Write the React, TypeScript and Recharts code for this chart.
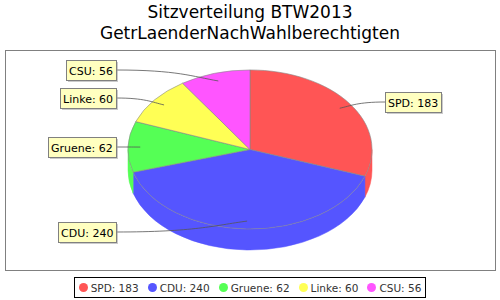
import { PieChart, Pie, Cell, Legend } from 'recharts';

const parties = ['SPD', 'CDU', 'Gruene', 'Linke', 'CSU'];
const seats = [183, 240, 62, 60, 56];
const colors = ['#FF5555', '#5555FF', '#55FF55', '#FFFF55', '#FF55FF'];

const titleLines = ['Sitzverteilung BTW2013', 'GetrLaenderNachWahlberechtigten'];

const chartData = parties.map((name, i) => ({ name, value: seats[i] }));

// flatten factor and side depth for the fake 3D look
const FLAT = 0.652;
const DEPTH = 21;
const RAD = Math.PI / 180;
const LABEL_FONT = "11px 'DejaVu Sans'";

let measureCtx: CanvasRenderingContext2D | null = null;
const textWidth = (text: string): number => {
  if (!measureCtx) {
    measureCtx = document.createElement('canvas').getContext('2d');
  }
  if (!measureCtx) return text.length * 6.2;
  measureCtx.font = LABEL_FONT;
  return measureCtx.measureText(text).width;
};

const pt = (cx: number, cy: number, rx: number, ry: number, a: number) => ({
  x: cx + rx * Math.cos(a * RAD),
  y: cy - ry * Math.sin(a * RAD),
});

const EllipseSector = (props: any) => {
  const { cx, cy, outerRadius, startAngle, endAngle, fill } = props;
  const rx = outerRadius;
  const ry = outerRadius * FLAT;
  const s = pt(cx, cy, rx, ry, startAngle);
  const e = pt(cx, cy, rx, ry, endAngle);
  const large = Math.abs(endAngle - startAngle) > 180 ? 1 : 0;
  const sweep = endAngle < startAngle ? 1 : 0;
  const top = `M${cx},${cy} L${s.x},${s.y} A${rx},${ry} 0 ${large} ${sweep} ${e.x},${e.y} Z`;

  // visible side wall: front half of the ellipse (angles between 0 and -180)
  const hi = Math.min(Math.max(startAngle, endAngle), 0);
  const lo = Math.max(Math.min(startAngle, endAngle), -180);
  let side = null;
  if (hi > lo) {
    const a = pt(cx, cy, rx, ry, hi);
    const b = pt(cx, cy, rx, ry, lo);
    const d = `M${a.x},${a.y} A${rx},${ry} 0 0 1 ${b.x},${b.y} L${b.x},${b.y + DEPTH} A${rx},${ry} 0 0 0 ${a.x},${a.y + DEPTH} Z`;
    side = <path d={d} fill={fill} stroke={fill} strokeWidth={0.5} />;
  }

  return (
    <g>
      {side}
      <path d={top} fill={fill} stroke="#888888" strokeWidth={0.6} />
    </g>
  );
};

const renderLabel = (props: any) => {
  const { cx, cy, midAngle, outerRadius, index } = props;
  const rx = outerRadius;
  const ry = outerRadius * FLAT;
  const text = `${parties[index]}: ${seats[index]}`;
  const w = Math.round(textWidth(text)) + 6;
  const h = 20;
  const anchor = pt(cx, cy, rx * 0.9, ry * 0.9, midAngle);
  const ly = Math.round(cy - ry * 1.038 * Math.sin(midAngle * RAD));
  const right = Math.cos(midAngle * RAD) >= 0;
  const bx = right ? cx + 135 : cx - 134 - w;
  const by = ly - h / 2;
  const ex = right ? bx : bx + w;
  const dx = anchor.x - ex;
  const link = `M${ex},${ly} C${ex + dx * 0.6},${ly} ${anchor.x - dx * 0.25},${anchor.y + (ly - anchor.y) * 0.4} ${anchor.x},${anchor.y}`;
  return (
    <g key={`lbl-${index}`}>
      <path d={link} fill="none" stroke="#555555" strokeWidth={0.8} />
      <rect x={bx + 2} y={by + 2} width={w} height={h} fill="rgba(151,151,151,0.5)" />
      <rect x={bx + 0.5} y={by + 0.5} width={w} height={h} fill="#FFFFC0" stroke="#808080" strokeWidth={1} />
      <text
        x={bx + 3}
        y={by + 14.5}
        fontFamily="DejaVu Sans"
        fontSize={11}
        fill="#000000"
      >
        {text}
      </text>
    </g>
  );
};

const renderLegend = () => (
  <div style={{ display: 'flex', justifyContent: 'center' }}>
    <div
      style={{
        display: 'flex',
        alignItems: 'center',
        boxSizing: 'border-box',
        height: 21,
        border: '1px solid #000',
        padding: '0 4px',
        fontFamily: 'DejaVu Sans',
        fontSize: 10.5,
        color: '#333',
        background: '#fff',
        gap: 9,
      }}
    >
      {parties.map((p, i) => (
        <span key={p} style={{ display: 'flex', alignItems: 'center', gap: 3 }}>
          <span
            style={{
              width: 9,
              height: 9,
              borderRadius: 5,
              background: colors[i],
              display: 'inline-block',
            }}
          />
          {`${p}: ${seats[i]}`}
        </span>
      ))}
    </div>
  </div>
);

export default function App() {
  return (
    <div
      style={{
        position: 'absolute',
        left: 0,
        top: 0,
        width: 500,
        height: 300,
        background: '#fff',
        overflow: 'hidden',
      }}
    >
      <div
        style={{
          position: 'absolute',
          left: 0,
          top: 2,
          width: 500,
          textAlign: 'center',
          fontFamily: 'DejaVu Sans',
          fontSize: 17,
          lineHeight: '21px',
          color: '#000',
        }}
      >
        {titleLines.map((t) => (
          <div key={t}>{t}</div>
        ))}
      </div>
      <div
        style={{
          position: 'absolute',
          left: 5,
          top: 50,
          width: 489,
          height: 219,
          border: '1px solid #808080',
        }}
      />
      <div style={{ position: 'absolute', left: 0, top: 0 }}>
        <PieChart width={500} height={300} margin={{ top: 0, right: 0, bottom: 0, left: 0 }}>
          <Pie
            data={chartData}
            dataKey="value"
            nameKey="name"
            cx={250}
            cy={149.5}
            outerRadius={122}
            startAngle={90}
            endAngle={-270}
            stroke="none"
            isAnimationActive={false}
            shape={EllipseSector}
            activeShape={EllipseSector}
            inactiveShape={EllipseSector}
            label={renderLabel}
            labelLine={false}
          >
            {chartData.map((d, i) => (
              <Cell key={d.name} fill={colors[i]} />
            ))}
          </Pie>
          <Legend
            content={renderLegend}
            wrapperStyle={{ position: 'absolute', left: 0, top: 277, width: 500 }}
          />
        </PieChart>
      </div>
    </div>
  );
}
